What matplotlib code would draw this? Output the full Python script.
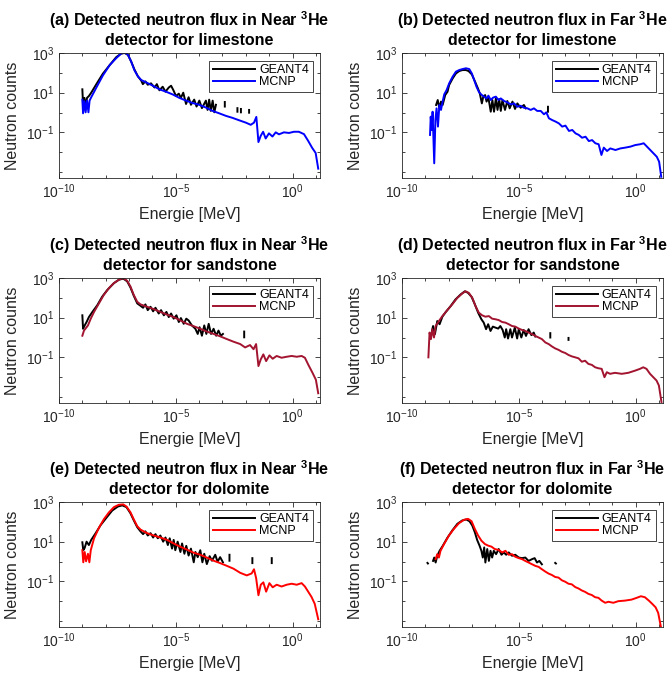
import numpy as np
import matplotlib.pyplot as plt
from matplotlib.ticker import FixedLocator, NullFormatter

plt.rcParams['font.family'] = ['Liberation Sans', 'DejaVu Sans']
plt.rcParams['mathtext.fontset'] = 'custom'
plt.rcParams['mathtext.rm'] = 'Liberation Sans'
plt.rcParams['mathtext.it'] = 'Liberation Sans:italic'
plt.rcParams['mathtext.bf'] = 'Liberation Sans:bold'
plt.rcParams['mathtext.default'] = 'regular'

nan = np.nan

# values, stored as log10(energy [MeV]) and log10(counts)
# (a) near detector, limestone
a_g4_logE = [-9.00, -8.97, -8.91, -8.86, -8.80, -8.72, -8.62, -8.40, -8.12, -7.83, -7.55, -7.34, -7.19, -7.05,
             -6.91, -6.77, -6.62, -6.48, -6.41, -6.30, -6.20, -6.06, -5.91, -5.81, -5.70, -5.56, -5.44, -5.30,
             -5.20, -5.10, -4.99, -4.87, -4.78, -4.68, -4.56, -4.45, -4.35, -4.21, -4.11, -3.99, -3.88, -3.71,
             -3.64, -3.57, -3.50, -3.42, -3.35, -3.28, nan, -2.90, -2.90, nan, -2.36, -2.36, nan, -2.21, -2.21,
             nan, -1.86, -1.86]
a_g4_logC = [1.17, 0.39, 0.74, 0.30, 0.74, 0.83, 1.00, 1.43, 1.96, 2.39, 2.79, 2.97, 3.00, 2.91,
             2.57, 2.17, 1.82, 1.61, 1.43, 1.57, 1.40, 1.47, 1.26, 1.43, 1.12, 1.30, 1.05, 1.26,
             1.35, 1.12, 0.83, 0.95, 0.74, 1.00, 0.43, 0.77, 0.39, 0.65, 0.30, 0.60, 0.22, 0.60,
             0.13, 0.65, 0.08, 0.60, 0.01, 0.39, nan, 0.53, 0.30, nan, 0.22, 0.04, nan, 0.18, 0.01,
             nan, 0.13, -0.01]
a_mc_logE = [-9.00, -8.97, -8.91, -8.86, -8.80, -8.74, -8.69, -8.62, -8.40, -8.12, -7.83, -7.55, -7.34, -7.19,
             -7.05, -6.91, -6.77, -6.62, -6.48, -6.27, -5.98, -5.70, -5.42, -5.13, -4.85, -4.56, -4.28, -4.00,
             -3.71, -3.42, -3.14, -2.85, -2.57, -2.29, -2.00, -1.79, -1.65, -1.55, -1.46, -1.36, -1.26, -1.15,
             -1.01, -0.86, -0.72, -0.58, -0.37, -0.15, 0.06, 0.27, 0.49, 0.67, 0.84, 0.99, 1.10]
a_mc_logC = [0.65, -0.04, 0.57, 0.01, 0.60, 0.01, 0.60, 0.77, 1.26, 1.87, 2.39, 2.74, 2.97, 3.03,
             2.91, 2.57, 2.13, 1.82, 1.64, 1.52, 1.35, 1.17, 1.05, 0.91, 0.74, 0.60, 0.48, 0.39,
             0.25, 0.08, -0.04, -0.17, -0.27, -0.39, -0.51, -0.62, -0.51, -0.22, -1.49, -1.17, -0.97, -1.31,
             -1.05, -1.21, -1.00, -1.10, -1.00, -1.03, -0.97, -0.97, -1.09, -1.43, -1.78, -2.04, -2.83]

# (b) far detector, limestone
b_g4_logE = [-8.54, -8.47, -8.40, -8.33, -8.26, -8.15, -8.05, -7.98, -7.83, -7.69, -7.55, -7.41, -7.26, -7.15,
             -7.01, -6.87, -6.75, -6.67, -6.58, -6.52, -6.44, -6.38, -6.30, -6.20, -6.13, -6.06, -5.98, -5.91,
             -5.84, -5.77, -5.70, -5.59, -5.49, -5.39, -5.27, -5.16, -5.06, -4.92, -4.78, -4.70, nan, -3.75, -3.75]
b_g4_logC = [0.38, 0.63, 0.21, 0.55, 0.38, 0.88, 1.05, 1.39, 1.72, 1.97, 2.09, 2.14, 2.14, 2.09,
             1.92, 1.55, 1.22, 0.97, 0.46, 0.80, 0.88, 0.55, 0.75, 0.04, 0.63, 0.04, 0.71, 0.13,
             0.68, 0.08, 0.63, 0.13, 0.58, 0.21, 0.55, 0.18, 0.46, 0.24, 0.38, 0.21, nan, 0.29, 0.04]
b_mc_logE = [-8.80, -8.77, -8.73, -8.69, -8.62, -8.57, -8.52, -8.46, -8.40, -8.33, -8.26, -8.19, -8.09, -7.98,
             -7.83, -7.69, -7.55, -7.41, -7.26, -7.12, -7.01, -6.91, -6.81, -6.70, -6.58, -6.48, -6.38, -6.30,
             -6.20, -6.10, -5.98, -5.87, -5.77, -5.63, -5.49, -5.34, -5.20, -5.06, -4.92, -4.78, -4.63, -4.49,
             -4.35, -4.21, -4.06, -3.92, -3.82, -3.71, -3.57, -3.42, -3.28, -3.14, -3.00, -2.85, -2.71, -2.57,
             -2.43, -2.29, -2.14, -2.00, -1.86, -1.72, -1.58, -1.46, -1.36, -1.22, -1.08, -0.86, -0.65, -0.44,
             -0.22, -0.01, 0.20, 0.35, 0.49, 0.63, 0.77, 0.91, 1.01, 1.10]
b_mc_logC = [-1.13, -0.21, -0.88, 0.04, -2.56, -0.38, 0.21, -0.71, 0.38, 0.13, 0.55, 0.92, 1.13, 1.47,
             1.81, 2.06, 2.14, 2.19, 2.23, 2.19, 1.97, 1.64, 1.30, 1.02, 0.88, 0.80, 0.71, 0.85,
             0.63, 0.75, 0.80, 0.63, 0.71, 0.58, 0.51, 0.41, 0.46, 0.29, 0.34, 0.24, 0.21, 0.13,
             0.21, 0.08, 0.08, -0.09, 0.01, -0.29, -0.38, -0.46, -0.55, -0.71, -0.66, -0.93, -0.88, -1.05,
             -1.13, -1.27, -1.22, -1.44, -1.39, -1.55, -1.60, -2.14, -1.77, -1.94, -1.81, -1.89, -1.81, -1.77,
             -1.72, -1.64, -1.60, -1.55, -1.72, -1.89, -2.06, -2.23, -2.48, -3.24]

# (c) near detector, sandstone
c_g4_logE = [-9.00, -8.97, -8.90, -8.82, -8.72, -8.57, -8.36, -8.15, -7.93, -7.65, -7.44, -7.25, -7.08, -6.94,
             -6.80, -6.65, -6.51, -6.40, -6.30, -6.20, -6.08, -5.97, -5.87, -5.73, -5.63, -5.51, -5.40, -5.30,
             -5.20, -5.09, -4.97, -4.87, -4.78, -4.66, -4.55, -4.45, -4.31, -4.16, -4.06, -3.98, -3.88, -3.78,
             -3.69, -3.59, -3.49, -3.38, -3.27, -3.17, -3.07, -2.98, nan, -2.07, -2.07]
c_g4_logC = [1.12, 0.44, 0.61, 0.78, 1.03, 1.29, 1.63, 2.06, 2.40, 2.74, 2.91, 2.97, 2.83, 2.52,
             2.11, 1.72, 1.60, 1.50, 1.67, 1.38, 1.55, 1.32, 1.50, 1.21, 1.38, 1.12, 1.29, 1.03,
             1.21, 0.95, 1.12, 0.78, 0.98, 0.69, 0.95, 0.86, 0.61, 0.44, 0.18, 0.52, 0.09, 0.61,
             0.18, 0.69, 0.18, 0.44, 0.09, 0.35, 0.09, 0.18, nan, 0.30, 0.01]
c_mc_logE = [-9.00, -8.93, -8.76, -8.64, -8.50, -8.29, -8.08, -7.86, -7.65, -7.44, -7.25, -7.08, -6.94, -6.80,
             -6.65, -6.51, -6.23, -5.94, -5.66, -5.37, -5.09, -4.80, -4.52, -4.23, -3.95, -3.67, -3.38, -3.10,
             -2.81, -2.53, -2.24, -2.03, -1.82, -1.67, -1.56, -1.46, -1.36, -1.25, -1.13, -0.99, -0.85, -0.68,
             -0.47, -0.25, -0.04, 0.18, 0.39, 0.53, 0.67, 0.86, 1.00, 1.10]
c_mc_logC = [0.09, 0.35, 0.61, 0.95, 1.29, 1.72, 2.15, 2.49, 2.74, 2.91, 3.00, 2.86, 2.57, 2.15,
             1.80, 1.67, 1.55, 1.43, 1.29, 1.15, 1.03, 0.86, 0.69, 0.57, 0.44, 0.30, 0.18, 0.06,
             -0.08, -0.21, -0.33, -0.50, -0.38, -0.59, -0.33, -1.44, -1.10, -0.85, -1.19, -0.90, -1.07, -0.93,
             -1.02, -0.97, -0.93, -0.97, -0.93, -1.02, -1.36, -1.79, -2.13, -2.81]

# (d) far detector, sandstone
d_g4_logE = [-8.73, -8.67, -8.59, -8.49, -8.39, -8.27, -8.13, -7.92, -7.71, -7.49, -7.31, -7.17, -7.02, -6.88,
             -6.74, -6.60, -6.50, -6.40, -6.31, -6.21, -6.11, -6.00, -5.88, -5.79, -5.69, -5.60, -5.54, -5.46,
             -5.36, -5.29, -5.17, -5.07, -5.00, -4.89, -4.79, -4.69, -4.58, -4.46, -4.36, -4.29, nan, -3.65, -3.65,
             nan, -2.87, -2.87]
d_g4_logC = [0.25, 0.58, 0.17, 0.83, 0.67, 1.05, 1.28, 1.58, 1.92, 2.17, 2.33, 2.25, 2.05, 1.67,
             1.25, 0.92, 0.75, 0.42, 0.67, 0.33, 0.55, 0.50, 0.45, 0.58, 0.38, 0.00, 0.42, -0.05,
             0.42, 0.00, 0.50, -0.05, 0.42, 0.00, 0.38, 0.08, 0.42, 0.12, 0.25, 0.05, nan, 0.22, 0.00,
             nan, -0.02, -0.12]
d_mc_logE = [-8.87, -8.82, -8.76, -8.70, -8.63, -8.56, -8.42, -8.27, -8.06, -7.85, -7.63, -7.42, -7.28, -7.14,
             -6.99, -6.85, -6.71, -6.57, -6.43, -6.28, -6.14, -6.00, -5.86, -5.71, -5.57, -5.43, -5.29, -5.15,
             -5.00, -4.86, -4.72, -4.58, -4.43, -4.29, -4.15, -4.01, -3.86, -3.72, -3.58, -3.44, -3.30, -3.15,
             -3.01, -2.87, -2.73, -2.58, -2.44, -2.30, -2.16, -2.02, -1.87, -1.73, -1.59, -1.45, -1.33, -1.23,
             -1.09, -0.88, -0.59, -0.31, -0.02, 0.19, 0.33, 0.47, 0.62, 0.76, 0.90, 1.00, 1.11]
d_mc_logC = [-1.00, 0.25, -0.08, 0.42, 0.00, 0.58, 0.83, 1.08, 1.38, 1.67, 2.00, 2.22, 2.33, 2.25,
             2.00, 1.58, 1.25, 1.12, 1.05, 1.08, 0.95, 0.92, 0.88, 0.78, 0.75, 0.67, 0.58, 0.55,
             0.45, 0.38, 0.33, 0.25, 0.17, 0.08, 0.00, -0.08, -0.25, -0.33, -0.45, -0.55, -0.62, -0.72,
             -0.78, -0.88, -0.95, -1.00, -1.05, -1.22, -1.17, -1.33, -1.38, -1.50, -1.55, -1.58, -2.00, -1.75,
             -1.83, -1.78, -1.83, -1.78, -1.67, -1.58, -1.50, -1.58, -1.83, -2.00, -2.17, -2.42, -3.25]

# (e) near detector, dolomite
e_g4_logE = [-9.00, -8.96, -8.90, -8.82, -8.72, -8.62, -8.43, -8.22, -7.96, -7.72, -7.48, -7.29, -7.11, -6.94,
             -6.80, -6.65, -6.51, -6.40, -6.30, -6.20, -6.08, -5.97, -5.87, -5.77, -5.66, -5.54, -5.44, -5.34,
             -5.26, -5.16, -5.09, -5.02, -4.92, -4.80, -4.73, -4.63, -4.55, -4.45, -4.35, -4.23, -4.16, -4.06,
             -3.95, -3.86, -3.78, -3.67, -3.55, -3.45, -3.31, -3.21, -3.10, -2.98, nan, -2.70, -2.70,
             nan, -1.72, -1.72, nan, -0.89, -0.89]
e_g4_logC = [0.97, 0.57, 0.69, 1.00, 0.83, 1.09, 1.43, 1.83, 2.22, 2.57, 2.77, 2.83, 2.74, 2.43,
             2.08, 1.73, 1.52, 1.38, 1.52, 1.31, 1.43, 1.21, 1.38, 1.17, 1.31, 1.00, 1.21, 0.83,
             1.17, 0.65, 1.09, 0.57, 1.00, 0.48, 0.91, 0.39, 0.79, 0.30, 0.65, -0.04, 0.48, 0.22,
             0.57, -0.04, 0.39, -0.13, 0.27, 0.04, 0.34, -0.01, 0.22, -0.04, nan, 0.34, 0.04,
             nan, 0.17, -0.08, nan, 0.17, -0.08]
e_mc_logE = [-9.00, -8.96, -8.90, -8.84, -8.76, -8.70, -8.64, -8.50, -8.29, -8.08, -7.86, -7.65, -7.44, -7.25,
             -7.11, -6.94, -6.80, -6.65, -6.51, -6.23, -5.94, -5.66, -5.37, -5.09, -4.80, -4.52, -4.23, -3.95,
             -3.67, -3.38, -3.10, -2.81, -2.53, -2.24, -1.96, -1.75, -1.65, -1.56, -1.46, -1.36, -1.25, -1.13,
             -0.99, -0.85, -0.68, -0.47, -0.25, -0.04, 0.18, 0.39, 0.53, 0.67, 0.81, 0.95, 1.10]
e_mc_logC = [0.57, -0.04, 0.48, 0.01, 0.39, -0.04, 0.57, 1.17, 1.70, 2.13, 2.48, 2.74, 2.86, 2.88,
             2.77, 2.48, 2.13, 1.78, 1.61, 1.43, 1.31, 1.21, 1.09, 0.91, 0.74, 0.60, 0.44, 0.34,
             0.20, 0.04, -0.08, -0.22, -0.36, -0.57, -0.70, -0.60, -0.39, -0.83, -1.70, -1.17, -1.05, -1.52,
             -1.09, -1.30, -1.17, -1.26, -1.17, -1.12, -1.17, -1.09, -1.26, -1.52, -1.78, -2.13, -2.91]

# (f) far detector, dolomite
f_g4_logE = [-8.91, -8.89, nan, -8.67, -8.62, -8.56, -8.49, -8.39, -8.25, -8.06, -7.85, -7.63, -7.42, -7.25,
             -7.11, -6.99, -6.88, -6.78, -6.68, -6.60, -6.54, -6.48, -6.43, -6.35, -6.28, -6.21, -6.14, -6.07,
             -5.97, -5.86, -5.74, -5.64, -5.54, -5.43, -5.29, -5.15, -5.00, -4.86, -4.72, -4.58, -4.43, -4.32,
             -4.22, -4.12, -4.01, nan, -3.44, -3.41]
f_g4_logC = [-0.07, -0.10, nan, 0.03, 0.20, -0.05, 0.29, 0.54, 0.80, 1.19, 1.56, 1.90, 2.07, 2.12,
             2.03, 1.81, 1.47, 1.08, 0.80, 0.54, 0.20, 0.71, -0.05, 0.63, 0.03, 0.54, 0.20, 0.54,
             0.37, 0.63, 0.34, 0.46, 0.34, 0.46, 0.29, 0.34, 0.20, 0.17, 0.20, 0.03, 0.12, 0.17,
             -0.05, 0.03, -0.14, nan, -0.07, -0.10]
f_mc_logE = [-8.56, -8.49, -8.42, -8.35, -8.20, -7.99, -7.78, -7.56, -7.35, -7.17, -7.02, -6.88, -6.74, -6.60,
             -6.45, -6.31, -6.17, -6.03, -5.86, -5.71, -5.57, -5.43, -5.29, -5.15, -5.00, -4.86, -4.72, -4.58,
             -4.43, -4.29, -4.15, -4.01, -3.86, -3.72, -3.58, -3.44, -3.30, -3.15, -3.01, -2.87, -2.73, -2.58,
             -2.44, -2.30, -2.16, -2.02, -1.87, -1.73, -1.59, -1.45, -1.30, -1.16, -0.95, -0.74, -0.45, -0.17,
             0.05, 0.23, 0.40, 0.57, 0.72, 0.86, 0.97, 1.11]
f_mc_logC = [0.12, 0.37, 0.20, 0.54, 0.88, 1.31, 1.64, 1.93, 2.10, 2.15, 2.03, 1.64, 1.31, 1.05,
             0.88, 0.80, 0.75, 0.63, 0.58, 0.46, 0.54, 0.34, 0.37, 0.24, 0.17, 0.12, 0.03, -0.05,
             -0.14, -0.22, -0.27, -0.39, -0.51, -0.61, -0.68, -0.78, -0.81, -0.95, -1.02, -1.12, -1.15, -1.29,
             -1.36, -1.46, -1.53, -1.63, -1.69, -1.80, -1.83, -1.97, -2.08, -2.03, -2.08, -2.00, -1.97, -1.92,
             -1.83, -1.75, -1.80, -1.97, -2.14, -2.31, -2.59, -3.44]

titles = ['(a) Detected neutron flux in Near $^{\\mathbf{3}}$He\ndetector for limestone',
          '(b) Detected neutron flux in Far $^{\\mathbf{3}}$He\ndetector for limestone',
          '(c) Detected neutron flux in Near $^{\\mathbf{3}}$He\ndetector for sandstone',
          '(d) Detected neutron flux in Far $^{\\mathbf{3}}$He\ndetector for sandstone',
          '(e) Detected neutron flux in Near $^{\\mathbf{3}}$He\ndetector for dolomite',
          '(f) Detected neutron flux in Far $^{\\mathbf{3}}$He\ndetector for dolomite']

xtick_vals = [1e-10, 1e-5, 1e0]
xtick_labels = ['$10^{-10}$', '$10^{-5}$', '$10^{0}$']
ytick_vals = [1e-1, 1e1, 1e3]
ytick_labels = ['$10^{-1}$', '$10^{1}$', '$10^{3}$']

series = [(a_g4_logE, a_g4_logC, a_mc_logE, a_mc_logC),
          (b_g4_logE, b_g4_logC, b_mc_logE, b_mc_logC),
          (c_g4_logE, c_g4_logC, c_mc_logE, c_mc_logC),
          (d_g4_logE, d_g4_logC, d_mc_logE, d_mc_logC),
          (e_g4_logE, e_g4_logC, e_mc_logE, e_mc_logC),
          (f_g4_logE, f_g4_logC, f_mc_logE, f_mc_logC)]
mcnp_colors = ['#0000FF', '#0000FF', '#A2142F', '#A2142F', '#FF0000', '#FF0000']

W, H = 670, 679
fig = plt.figure(figsize=(W / 100, H / 100), dpi=100)

col_left = [59, 402]          # px
row_top = [53, 278, 502]      # px
ax_w, ax_h = 261, 125
gray = '#262626'

for i, (gx, gy, mx, my) in enumerate(series):
    r, c = divmod(i, 2)
    ax = fig.add_axes([col_left[c] / W, 1 - (row_top[r] + ax_h) / H, ax_w / W, ax_h / H])
    ax.plot(10 ** np.array(gx), 10 ** np.array(gy), color='k', lw=1.4, label='GEANT4')
    ax.plot(10 ** np.array(mx), 10 ** np.array(my), color=mcnp_colors[i], lw=1.4, label='MCNP')
    ax.set_xscale('log')
    ax.set_yscale('log')
    ax.set_xlim(1e-10, 15)
    ax.set_ylim(5e-4, 1e3)
    ax.set_xticks(xtick_vals, xtick_labels)
    ax.set_yticks(ytick_vals, ytick_labels)
    ax.xaxis.set_minor_locator(FixedLocator([10.0 ** k for k in range(-10, 2)]))
    ax.yaxis.set_minor_locator(FixedLocator([10.0 ** k for k in range(-3, 4)]))
    ax.xaxis.set_minor_formatter(NullFormatter())
    ax.yaxis.set_minor_formatter(NullFormatter())
    ax.tick_params(which='both', direction='in', top=True, right=True, color=gray,
                   labelcolor=gray, labelsize=10, width=0.6)
    ax.tick_params(which='major', length=3.5)
    ax.tick_params(which='minor', length=2)
    for sp in ax.spines.values():
        sp.set_color(gray)
        sp.set_linewidth(0.6)
    ax.set_xlabel('Energie [MeV]', fontsize=11.5, color=gray)
    ax.set_ylabel('Neutron counts', fontsize=11.5, color=gray)
    ax.set_title(titles[i], fontsize=11.5, fontweight='bold', linespacing=1.1, pad=6)
    leg = ax.legend(loc='upper right', fontsize=9, handlelength=3.4, handletextpad=0.3,
                    labelspacing=0.0, borderpad=0.3, borderaxespad=0.6, fancybox=False,
                    framealpha=1, edgecolor=gray)
    leg.get_frame().set_linewidth(0.6)

fig.savefig('out.png', dpi=100)
